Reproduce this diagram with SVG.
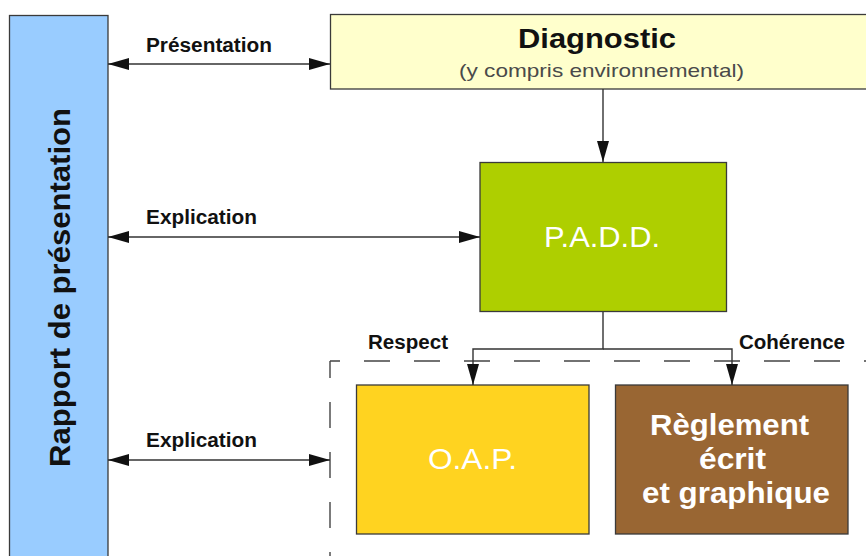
<svg xmlns="http://www.w3.org/2000/svg" width="866" height="556" viewBox="0 0 866 556">
<defs>
<marker id="arr" viewBox="0 0 21 12" refX="21" refY="6" markerWidth="21" markerHeight="12" markerUnits="userSpaceOnUse" orient="auto-start-reverse">
<path d="M0,0 L21,6 L0,12 z" fill="#111"/>
</marker>
<style>
.box{stroke:#3a3a3a;stroke-width:1.3}
.con{fill:none;stroke:#333;stroke-width:1.4}
.dash{fill:none;stroke:#444;stroke-width:1.4;stroke-dasharray:26 24}
.lbl{font-family:"Liberation Sans",Arial,sans-serif;font-weight:bold;font-size:20px;fill:#111}
.wt{font-family:"Liberation Sans",Arial,sans-serif;font-size:30px;fill:#fff;text-anchor:middle}
</style>
</defs>
<rect width="866" height="556" fill="#fff"/>
<g id="group-dashed">
<path class="dash" d="M330,361 H870" stroke-dashoffset="16"/>
<path class="dash" d="M330,361 V560" stroke-dashoffset="9"/>
</g>
<g id="rapport">
<rect class="box" x="9.5" y="15.5" width="98.5" height="560" fill="#99CCFF"/>
<text transform="translate(70,287.5) rotate(-90)" text-anchor="middle" font-family="Liberation Sans, Arial, sans-serif" font-weight="bold" font-size="30" fill="#111" textLength="359" lengthAdjust="spacingAndGlyphs">Rapport de présentation</text>
</g>
<g id="diagnostic">
<rect class="box" x="330.5" y="14.5" width="545" height="74.5" fill="#FFFFCC"/>
<text x="597" y="48" text-anchor="middle" font-family="Liberation Sans, Arial, sans-serif" font-weight="bold" font-size="28" fill="#111" textLength="158" lengthAdjust="spacingAndGlyphs">Diagnostic</text>
<text x="601.5" y="77" text-anchor="middle" font-family="Liberation Sans, Arial, sans-serif" font-size="19" fill="#4a4a4a" textLength="285" lengthAdjust="spacingAndGlyphs">(y compris environnemental)</text>
</g>
<g id="padd">
<rect class="box" x="480" y="162.5" width="246.5" height="149" fill="#AECF00"/>
<text class="wt" x="602" y="247" textLength="116" lengthAdjust="spacingAndGlyphs">P.A.D.D.</text>
</g>
<g id="oap">
<rect class="box" x="356.5" y="385" width="232.5" height="149" fill="#FFD320"/>
<text class="wt" x="472.5" y="469" textLength="89" lengthAdjust="spacingAndGlyphs">O.A.P.</text>
</g>
<g id="reglement">
<rect class="box" x="615.5" y="385" width="232.5" height="149" fill="#996633"/>
<text class="wt" font-weight="bold" font-size="29" x="729.5" y="435" textLength="159" lengthAdjust="spacingAndGlyphs">Règlement</text>
<text class="wt" font-weight="bold" font-size="29" x="732.5" y="469" textLength="67" lengthAdjust="spacingAndGlyphs">écrit</text>
<text class="wt" font-weight="bold" font-size="29" x="736" y="503" textLength="188" lengthAdjust="spacingAndGlyphs">et graphique</text>
</g>
<g id="connectors">
<path class="con" d="M108,64 H330" marker-start="url(#arr)" marker-end="url(#arr)"/>
<path class="con" d="M108,237 H480" marker-start="url(#arr)" marker-end="url(#arr)"/>
<path class="con" d="M108,460 H330" marker-start="url(#arr)" marker-end="url(#arr)"/>
<path class="con" d="M603,89 V162" marker-end="url(#arr)"/>
<path class="con" d="M603,312 V349 H473 V385" marker-end="url(#arr)"/>
<path class="con" d="M603,349 H732 V385" marker-end="url(#arr)"/>
<text class="lbl" x="146" y="52" textLength="126" lengthAdjust="spacingAndGlyphs">Présentation</text>
<text class="lbl" x="146" y="224" textLength="111" lengthAdjust="spacingAndGlyphs">Explication</text>
<text class="lbl" x="146" y="447" textLength="111" lengthAdjust="spacingAndGlyphs">Explication</text>
<text class="lbl" x="368" y="349" textLength="80" lengthAdjust="spacingAndGlyphs">Respect</text>
<text class="lbl" x="739" y="349" textLength="106" lengthAdjust="spacingAndGlyphs">Cohérence</text>
</g>
</svg>
